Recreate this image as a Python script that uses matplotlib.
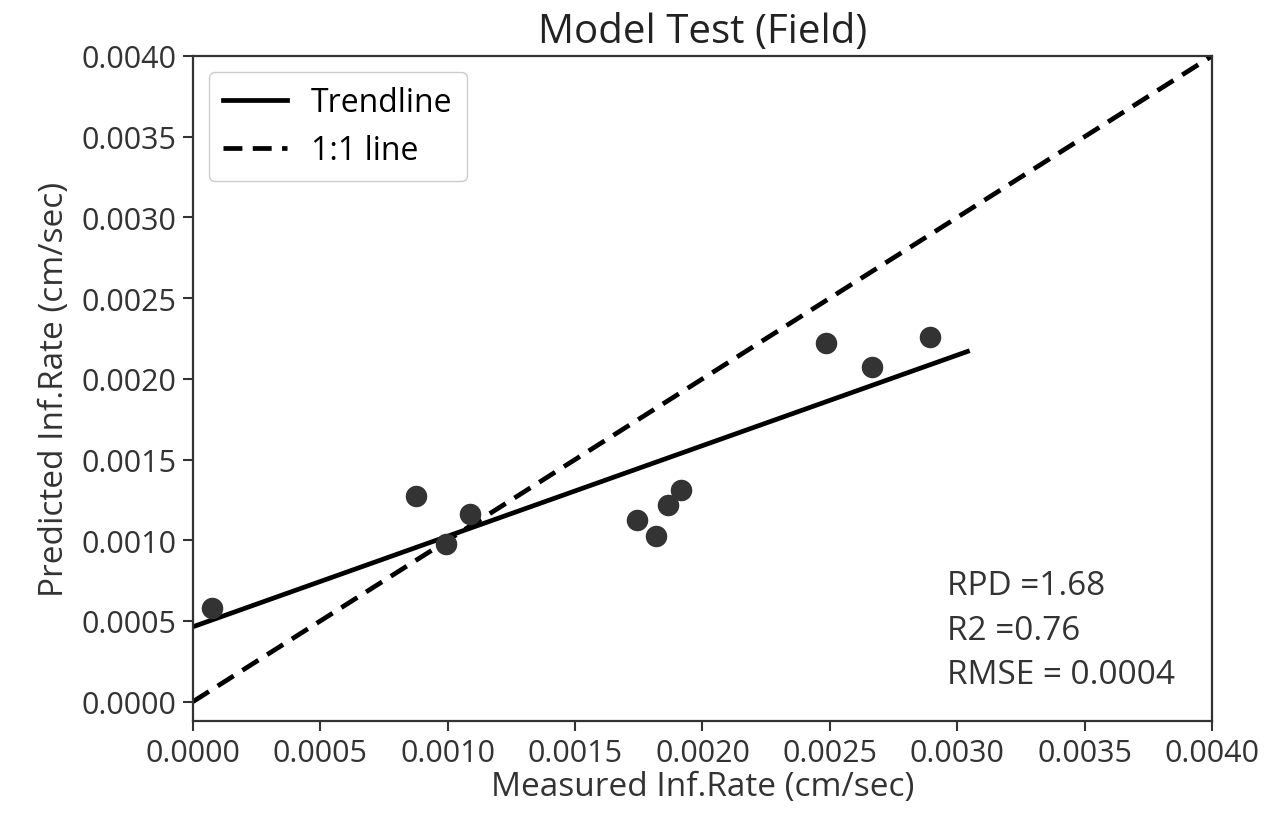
#!/usr/bin/env python3

import numpy as np
import matplotlib
matplotlib.use("Agg")
import matplotlib.pyplot as plt

# measured vs predicted infiltration rate (cm/sec)
measured = [0.000075, 0.000875, 0.001087, 0.000993, 0.001743, 0.001817,
            0.001865, 0.001916, 0.002485, 0.002665, 0.002893]
predicted = [0.000582, 0.001276, 0.001164, 0.000978, 0.001127, 0.001028,
             0.001220, 0.001313, 0.002223, 0.002074, 0.002260]

trend_slope = 0.561
trend_intercept = 0.000464
trend_x = [0.0, 0.00304]
one_to_one = [0.0, 0.004]

ticks = [0.0, 0.0005, 0.0010, 0.0015, 0.0020, 0.0025, 0.0030, 0.0035, 0.0040]
stats_text = "RPD =1.68\nR2 =0.76\nRMSE = 0.0004"

def main():
    plt.rcParams["font.family"] = ["Open Sans", "DejaVu Sans"]
    plt.rcParams["font.size"] = 22
    plt.rcParams["axes.edgecolor"] = "#333333"
    plt.rcParams["axes.linewidth"] = 1.6

    fig = plt.figure(figsize=(12.67, 8.2), dpi=100)
    ax = fig.add_axes([0.1523, 0.1195, 0.8043, 0.811])

    tx = np.array(trend_x)
    ax.plot(tx, trend_slope * tx + trend_intercept, color="black", lw=3.4,
            label="Trendline")
    ax.plot(one_to_one, one_to_one, color="black", lw=3.4, ls=(0, (4, 2.2)),
            label="1:1 line")
    ax.scatter(measured, predicted, s=210, color="#333333", zorder=3)

    ax.set_xlim(0, 0.004)
    ax.set_ylim(-0.00012, 0.004)
    ax.set_xticks(ticks)
    ax.set_yticks(ticks)
    ax.set_xticklabels(["%.4f" % t for t in ticks], color="#333333")
    ax.set_yticklabels(["%.4f" % t for t in ticks], color="#333333")
    ax.tick_params(length=7, width=1.5, color="#333333", pad=5)

    ax.set_title("Model Test (Field)", color="#222222", fontsize=29, pad=10)
    ax.set_xlabel("Measured Inf.Rate (cm/sec)", color="#333333",
                  fontsize=24, labelpad=2)
    ax.set_ylabel("Predicted Inf.Rate (cm/sec)", color="#333333",
                  fontsize=24, labelpad=7)

    ax.text(0.00296, 0.00082, stats_text, va="top", ha="left",
            color="#333333", fontsize=24, linespacing=1.45)

    ax.legend(loc="upper left", handlelength=2.0, fontsize=23,
              edgecolor="#cccccc", framealpha=1, borderpad=0.45,
              labelspacing=0.45, handletextpad=0.75)

    fig.savefig("out.png", dpi=100)

if __name__ == "__main__":
    main()
